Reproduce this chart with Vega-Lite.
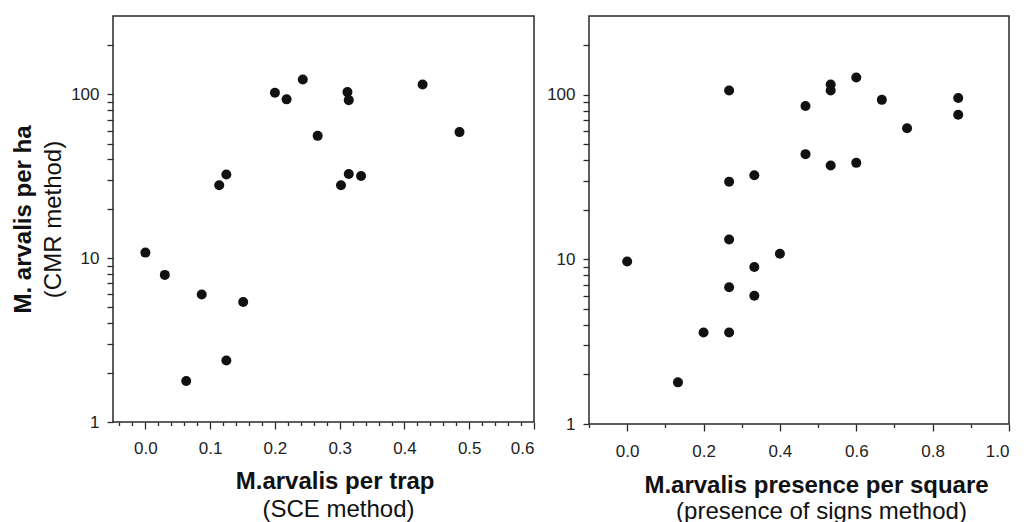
{
  "$schema": "https://vega.github.io/schema/vega-lite/v6.json",
  "padding": {"left": 10, "top": 15, "right": 0, "bottom": 0},
  "spacing": 9,
  "config": {
    "font": "Liberation Sans",
    "view": {"stroke": "#2a2a2a", "strokeWidth": 1.5},
    "axis": {"grid": false, "domain": false, "labelFontSize": 17, "labelColor": "#222", "tickColor": "#2a2a2a", "tickWidth": 1.3, "titleColor": "#111", "labelFont": "Liberation Sans", "titleFont": "Liberation Sans"}
  },
  "datasets": {
    "trap": [
      {"x": 0.0, "y": 10.8}, {"x": 0.03, "y": 7.9}, {"x": 0.087, "y": 6.0}, {"x": 0.151, "y": 5.4},
      {"x": 0.125, "y": 2.37}, {"x": 0.063, "y": 1.78}, {"x": 0.114, "y": 27.8}, {"x": 0.125, "y": 32.4},
      {"x": 0.2, "y": 102}, {"x": 0.218, "y": 93}, {"x": 0.243, "y": 123}, {"x": 0.266, "y": 55.7},
      {"x": 0.312, "y": 103}, {"x": 0.314, "y": 92}, {"x": 0.302, "y": 27.8}, {"x": 0.314, "y": 32.6},
      {"x": 0.333, "y": 31.7}, {"x": 0.428, "y": 114.6}, {"x": 0.485, "y": 58.7}
    ],
    "signs": [
      {"x": 0.0, "y": 9.7}, {"x": 0.133, "y": 1.79}, {"x": 0.2, "y": 3.59}, {"x": 0.267, "y": 3.59},
      {"x": 0.267, "y": 6.76}, {"x": 0.267, "y": 13.2}, {"x": 0.267, "y": 29.6}, {"x": 0.267, "y": 106},
      {"x": 0.333, "y": 8.98}, {"x": 0.333, "y": 6.0}, {"x": 0.333, "y": 32.4}, {"x": 0.4, "y": 10.8},
      {"x": 0.467, "y": 85.3}, {"x": 0.467, "y": 43.5}, {"x": 0.533, "y": 115}, {"x": 0.533, "y": 106},
      {"x": 0.533, "y": 37.1}, {"x": 0.6, "y": 127}, {"x": 0.6, "y": 38.5}, {"x": 0.667, "y": 92.9},
      {"x": 0.733, "y": 62.5}, {"x": 0.867, "y": 95.4}, {"x": 0.867, "y": 75.5}
    ]
  },
  "hconcat": [
    {
      "width": 421,
      "height": 406,
      "data": {"name": "trap"},
      "layer": [
        {
          "mark": {"type": "point", "filled": true, "size": 100, "color": "#111", "opacity": 1},
          "encoding": {
            "x": {"field": "x", "type": "quantitative",
              "scale": {"domain": [-0.05, 0.6], "nice": false, "zero": false},
              "axis": {"orient": "bottom", "values": [0, 0.1, 0.2, 0.3, 0.4, 0.5, 0.6], "format": ".1f", "tickSize": 7, "labelPadding": 11,
                "title": "M.arvalis per trap", "titleFontWeight": "bold", "titleFontSize": 24, "titlePadding": 13, "titleX": 221.6}},
            "y": {"field": "y", "type": "quantitative",
              "scale": {"type": "log", "domain": [1, 300], "nice": false},
              "axis": {"orient": "left", "values": [1, 10, 100], "format": "d", "tickSize": 6, "labelPadding": 8,
                "title": "M. arvalis per ha", "titleFontWeight": "bold", "titleFontSize": 24, "titlePadding": 35}}
          }
        },
        {
          "mark": {"type": "point", "filled": true, "size": 100, "opacity": 0},
          "encoding": {
            "x": {"field": "x", "type": "quantitative",
              "axis": {"orient": "bottom", "values": [-0.04, -0.02, 0.02, 0.04, 0.06, 0.08, 0.12, 0.14, 0.16, 0.18, 0.22, 0.24, 0.26, 0.28, 0.32, 0.34, 0.36, 0.38, 0.42, 0.44, 0.46, 0.48, 0.52, 0.54, 0.56, 0.58],
                "labels": false, "tickSize": 3.5,
                "title": "(SCE method)", "titleFontWeight": "normal", "titleFontSize": 24, "titlePadding": 71, "titleX": 225}},
            "y": {"field": "y", "type": "quantitative",
              "axis": {"orient": "left", "values": [2, 3, 4, 5, 6, 7, 8, 9, 20, 30, 40, 50, 60, 70, 80, 90, 200],
                "labels": false, "tickSize": 6,
                "title": "(CMR method)", "titleFontWeight": "normal", "titleFontSize": 24, "titlePadding": 41}}
          }
        }
      ],
      "resolve": {"axis": {"x": "independent", "y": "independent"}}
    },
    {
      "width": 420,
      "height": 408,
      "data": {"name": "signs"},
      "layer": [
        {
          "mark": {"type": "point", "filled": true, "size": 100, "color": "#111", "opacity": 1},
          "encoding": {
            "x": {"field": "x", "type": "quantitative",
              "scale": {"domain": [-0.1, 1.0], "nice": false, "zero": false},
              "axis": {"orient": "bottom", "values": [0, 0.2, 0.4, 0.6, 0.8, 1.0], "format": ".1f", "tickSize": 7, "labelPadding": 12,
                "title": "M.arvalis presence per square", "titleFontWeight": "bold", "titleFontSize": 24, "titlePadding": 14, "titleX": 227}},
            "y": {"field": "y", "type": "quantitative",
              "scale": {"type": "log", "domain": [1, 300], "nice": false},
              "axis": {"orient": "left", "values": [1, 10, 100], "format": "d", "tickSize": 6, "labelPadding": 8, "title": null}}
          }
        },
        {
          "mark": {"type": "point", "filled": true, "size": 100, "opacity": 0},
          "encoding": {
            "x": {"field": "x", "type": "quantitative",
              "axis": {"orient": "bottom", "values": [-0.1, 0.1, 0.3, 0.5, 0.7, 0.9],
                "labels": false, "tickSize": 3.5,
                "title": "(presence of signs method)", "titleFontWeight": "normal", "titleFontSize": 24, "titlePadding": 71, "titleX": 232}},
            "y": {"field": "y", "type": "quantitative",
              "axis": {"orient": "left", "values": [2, 3, 4, 5, 6, 7, 8, 9, 20, 30, 40, 50, 60, 70, 80, 90, 200],
                "labels": false, "tickSize": 6, "title": null}}
          }
        }
      ],
      "resolve": {"axis": {"x": "independent", "y": "independent"}}
    }
  ]
}
